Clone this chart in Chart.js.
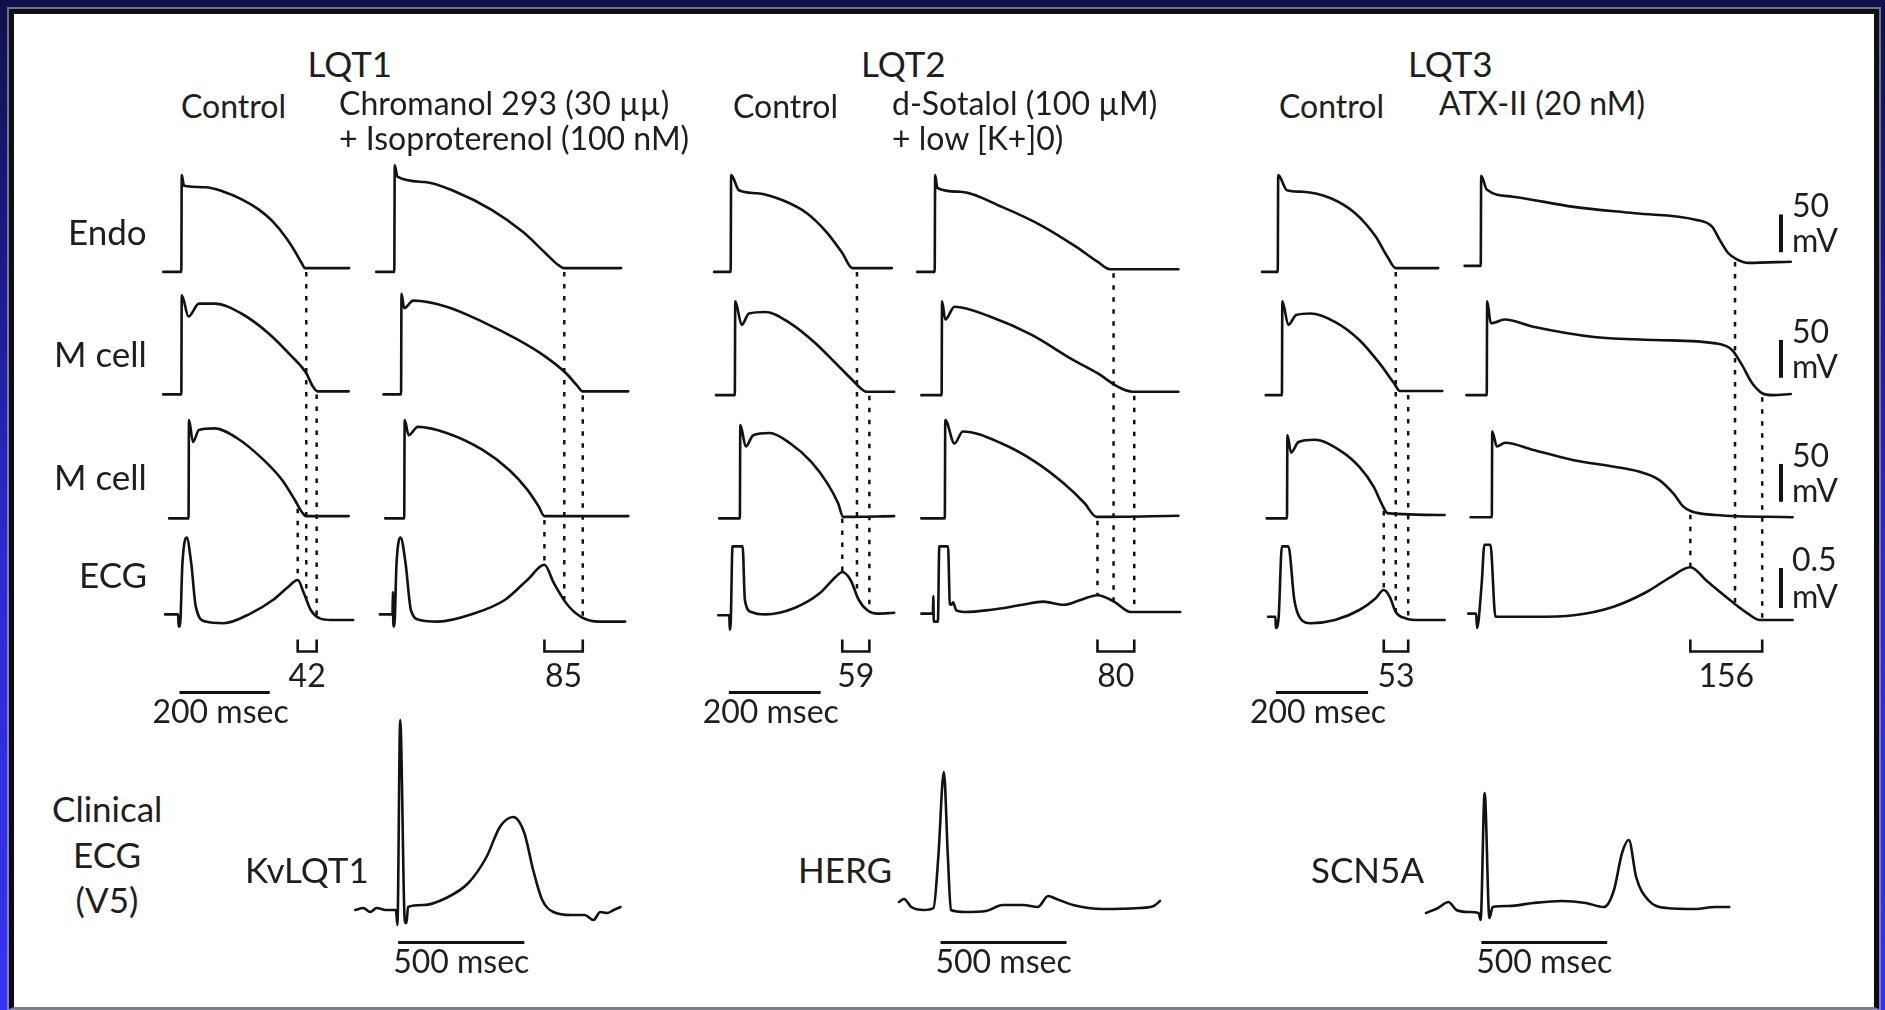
<!DOCTYPE html>
<html>
<head>
<meta charset="utf-8">
<title>Cellular basis of LQT1, LQT2 and LQT3</title>
<script src="https://cdn.jsdelivr.net/npm/chart.js@4.4.1/dist/chart.umd.min.js"></script>
<style>
  html, body { margin: 0; padding: 0; }
  body {
    width: 1885px; height: 1010px; overflow: hidden; position: relative;
    background: linear-gradient(180deg, #10104a 0%, #1a1a86 25%, #2a2ad2 55%, #3434f6 100%);
    font-family: Lato, "Open Sans", sans-serif; color: #1e1e1e;
  }
  #panel {
    position: absolute; left: 9px; top: 9px; width: 1870px; height: 1000px; box-sizing: border-box;
    background: #fff; border: 5px solid #0e0e0e; border-bottom: 2px solid #7c7c7c;
    box-shadow: 0 0 0 2px rgba(175,175,195,0.6);
  }
  canvas { position: absolute; }
  .t { position: absolute; white-space: nowrap; line-height: 1; }
</style>
</head>
<body>
<div id="panel"></div>
<script>
// ---------------------------------------------------------------------------
// Arterially perfused wedge recordings: [time (ms), membrane potential (mV)]
// ECG rows: [time (ms), mV]
// ---------------------------------------------------------------------------

// LQT1 — control
const lqt1CtrlEndo  = [[-40,-88],[0,-88],[1,40],[6,26],[54,24],[94,18],[134,8],[173,-6],[203,-21.6],[233,-43.5],[252,-61],[267,-76.6],[274,-83],[372,-83]];
const lqt1CtrlM     = [[-40,-86],[0,-86],[1,45],[16,17],[39,34],[74,34],[133,21],[193,-5],[242,-34],[277,-58],[292,-76],[302,-82],[371,-82]];
const lqt1CtrlM2    = [[-27,-86],[16,-86],[17,44],[26,15],[39,31],[74,33],[124,20],[183,-9],[223,-35],[252,-62],[269,-79],[277,-83],[371,-83]];
const lqt1CtrlEcg   = [[-36,0.07],[-7,0.07],[-6,-0.08],[-3,-0.08],[2.5,0.71],[12,1.03],[22,0.71],[32,0.17],[54,-0.02],[94,-0.04],[153,0.08],[203,0.25],[238,0.42],[258,0.5],[272,0.33],[287,0.125],[307,0.02],[332,0],[381,0]];

// LQT1 — chromanol 293B + isoproterenol
const lqt1DrugEndo  = [[-40,-88],[0,-88],[1,53],[7,38],[67,31],[136,18],[216,-6],[285,-35],[335,-63],[364,-79],[376,-83],[503,-83]];
const lqt1DrugM     = [[-24,-86],[15,-86],[16,47],[22,28],[42,38],[116,30],[196,10],[275,-14],[335,-36],[381,-58],[405,-74],[418,-82],[519,-82]];
const lqt1DrugM2    = [[-20,-86],[22,-86],[23,44],[32,24],[52,35],[116,27],[196,4.5],[255,-22],[295,-48],[320,-70],[333,-83],[519,-83]];
const lqt1DrugEcg   = [[-32,0.07],[-4,0.07],[-3,0.35],[-2,-0.08],[0,-0.08],[5,0.71],[14,1.03],[25,0.71],[37,0.12],[57,0],[97,-0.02],[176,0.08],[245,0.25],[295,0.5],[333,0.69],[354,0.46],[384,0.19],[414,0.04],[454,-0.02],[512,-0.02]];

// LQT2 — control
const lqt2CtrlEndo  = [[-36,-88],[0,-88],[1,40],[18,20],[58,16],[112,7],[166,-10.5],[211,-37],[243,-63],[265,-83],[351,-83]];
const lqt2CtrlM     = [[-32,-87],[9,-87],[10,37],[24,6],[40,21],[76,23],[130,8],[184,-18],[229,-45],[265,-67],[283,-78],[296,-82.5],[356,-82.5]];
const lqt2CtrlM2    = [[-25,-86],[20,-86],[21,37.5],[33,9],[49,24],[85,27],[130,13],[175,-11],[211,-40],[234,-66],[245,-84],[356,-83]];
const lqt2CtrlEcg   = [[-27,0.06],[-3,0.06],[-2,-0.12],[0,-0.05],[4,0.92],[26,0.92],[31,0.25],[45,0.1],[76,0.07],[139,0.15],[193,0.33],[229,0.54],[243,0.6],[261,0.5],[279,0.25],[297,0.125],[320,0.08],[356,0.09]];

// LQT2 — d-sotalol + low [K+]o
const lqt2DrugEndo  = [[-38,-88],[0,-88],[1,40],[6,23],[56,18],[146,-2],[236,-28],[308,-55],[354,-74.5],[381,-84.5],[530,-84.5]];
const lqt2DrugM     = [[-29,-87],[15,-87],[16,37],[23,13],[43,30],[120,17],[210,-7],[300,-40],[354,-58],[399,-76],[430,-82.5],[530,-82.5]];
const lqt2DrugM2    = [[-29,-86],[22,-86],[23,44],[43,13],[61,29],[146,13],[218,-11],[281,-40],[326,-66],[352,-84],[530,-82.5]];
const lqt2DrugEcg   = [[-29,0.08],[-4,0.08],[-3,0.3],[-2,-0.02],[7,-0.02],[10,0.92],[29,0.92],[33,0.2],[36,0.19],[40,0.22],[47,0.12],[65,0.1],[119,0.125],[191,0.19],[236,0.23],[281,0.19],[317,0.25],[354,0.31],[390,0.23],[426,0.1],[534,0.1]];

// LQT3 — control
const lqt3CtrlEndo  = [[-34,-88],[0,-88],[1,40],[20,20],[54,18],[115,9.4],[168,-10.5],[212,-41],[238,-68],[256,-83],[348,-83]];
const lqt3CtrlM     = [[-26,-87],[9,-87],[10,37],[23,6],[40,19],[71,21],[124,10],[177,-14],[221,-45],[252,-71],[265,-81.5],[357,-81.5]];
const lqt3CtrlM2    = [[-24,-86],[20,-86],[21,24],[29,1],[45,15],[80,18],[133,4.5],[177,-18],[208,-44],[225,-66],[238,-79],[362,-81.5]];
const lqt3CtrlEcg   = [[-21,0.04],[-5,0.04],[-4,-0.1],[2,0.04],[9,0.92],[23,0.92],[36,0.25],[49,0.02],[71,-0.04],[124,0],[177,0.125],[212,0.27],[230,0.375],[243,0.29],[256,0.1],[278,0.02],[309,0],[362,0]];

// LQT3 — ATX-II
const lqt3DrugEndo  = [[-35,-80],[0,-80],[1,39],[13,21],[70,11.5],[202,-2],[334,-10.5],[466,-19],[502,-28],[519,-46],[537,-63],[555,-71],[581,-76],[673,-74.5]];
const lqt3DrugM     = [[-31,-87],[13,-87],[14,37],[22,8],[52,13],[114,3.5],[246,-10],[378,-14],[510,-18.5],[545,-27],[567,-47],[589,-71],[611,-84.5],[633,-87],[673,-85.5]];
const lqt3DrugM2    = [[-22,-84.5],[24,-84.5],[25,29],[35,9],[53,14],[114,4.5],[202,-9],[290,-17.6],[343,-24],[387,-35],[418,-53],[440,-70.5],[458,-77],[510,-81.5],[677,-84.5]];
const lqt3DrugEcg   = [[-27,0.08],[-10,0.08],[-8,-0.1],[2,0.45],[8,0.94],[21,0.94],[32,0.04],[114,0.04],[202,0.06],[290,0.17],[360,0.35],[413,0.54],[455,0.66],[492,0.48],[545,0.23],[580,0.08],[606,0],[677,0]];

// Repolarization landmarks per column (ms): end of Endo AP, T-wave peak, Tpeak–Tend
const endoRepolEnd = [277, 377, 275, 389, 256, 552];
const tPeakTime    = [258, 333, 243, 354, 230, 455];
const tPeakToEnd   = [42, 85, 59, 80, 53, 156];

// Clinical V5 ECGs: [time from QRS onset (ms), mV]
const kvlqt1Ecg = [[-156,0],[-124,0.02],[-97,-0.02],[-71,0.02],[-35,0],[-9,0],[5,0],[11,-0.15],[22,1.9],[41,-0.13],[47,-0.13],[53,0.03],[115,0.05],[204,0.12],[292,0.27],[364,0.53],[417,0.83],[470,0.93],[514,0.77],[549,0.4],[585,0.1],[629,-0.02],[700,-0.05],[753,-0.05],[788,-0.1],[815,-0.02],[842,-0.03],[868,0],[895,0.03]];
const hergEcg   = [[-148,0.08],[-128,0.11],[-99,0.03],[-49,0],[-11,0.02],[8,0.53],[30,1.38],[46,0.53],[58,0],[115,-0.02],[197,-0.01],[263,0.05],[345,0.05],[403,0.03],[444,0.14],[477,0.11],[543,0.05],[658,0.01],[806,0.02],[863,0.04],[888,0.09]];
const scn5aEcg  = [[-212,-0.03],[-164,0.02],[-123,0.08],[-91,0],[-43,-0.02],[-3,-0.03],[5,-0.1],[21,1.17],[40,-0.08],[53,0.03],[117,0.04],[214,0.07],[327,0.09],[423,0.07],[495,0.03],[535,0.2],[567,0.57],[594,0.7],[623,0.33],[671,0.1],[744,0.02],[857,0.01],[937,0.03],[993,0.03]];

// Text
const groupTitles   = ['LQT1', 'LQT2', 'LQT3'];
const conditionText = [['Control'], ['Chromanol 293 (30 \u00b5\u00b5)', '+ Isoproterenol (100 nM)'], ['Control'], ['d-Sotalol (100 \u00b5M)', '+ low [K+]0)'], ['Control'], ['ATX-II (20 nM)']];
const rowNames      = ['Endo', 'M cell', 'M cell', 'ECG'];
const clinicalTitle = ['Clinical', 'ECG', '(V5)'];
const genotypes     = ['KvLQT1', 'HERG', 'SCN5A'];

// ---------------------------------------------------------------------------
const INK = '#121212';
const TEXT = '#1e1e1e';
const AP_RANGE = [-104, 60];
const ECG_RANGE = [-0.3, 1.1];
const ROW_AXES = ['endo', 'mcell', 'mcell2', 'ecg'];

const columnTraces = [
  [lqt1CtrlEndo, lqt1CtrlM, lqt1CtrlM2, lqt1CtrlEcg],
  [lqt1DrugEndo, lqt1DrugM, lqt1DrugM2, lqt1DrugEcg],
  [lqt2CtrlEndo, lqt2CtrlM, lqt2CtrlM2, lqt2CtrlEcg],
  [lqt2DrugEndo, lqt2DrugM, lqt2DrugM2, lqt2DrugEcg],
  [lqt3CtrlEndo, lqt3CtrlM, lqt3CtrlM2, lqt3CtrlEcg],
  [lqt3DrugEndo, lqt3DrugM, lqt3DrugM2, lqt3DrugEcg],
];

// page layout (px)
const columnLayout = [
  { x0: 181,  k: 0.45, tMin: -45, tMax: 385, timeBar: true },
  { x0: 394,  k: 0.45, tMin: -45, tMax: 525 },
  { x0: 731,  k: 0.46, tMin: -45, tMax: 360, timeBar: true },
  { x0: 935,  k: 0.46, tMin: -45, tMax: 540 },
  { x0: 1278, k: 0.46, tMin: -45, tMax: 365, timeBar: true },
  { x0: 1481, k: 0.46, tMin: -45, tMax: 680, voltBars: true, padRight: 70 },
];
const COL_TOP = 150, COL_PAD_TOP = 10, COL_PAD_BOTTOM = 91, COL_PAD_LEFT = 30, ROW_HEIGHTS = [124, 124, 124, 112];

const clinicalTraces = [kvlqt1Ecg, hergEcg, scn5aEcg];
const clinicalLayout = [
  { x0: 395,    tMin: -165, tMax: 905, barFrom: 14 },
  { x0: 936,    tMin: -160, tMax: 900, barFrom: 17 },
  { x0: 1479.6, tMin: -220, tMax: 1000, barFrom: 8 },
];
const CLIN_K = 0.252, CLIN_TOP = 700, CLIN_PAD_TOP = 10, CLIN_PAD_BOTTOM = 45, CLIN_RANGE = [-0.3, 2.0], CLIN_PX_PER_MV = 100;

function valueAt(pts, t) {
  if (t <= pts[0][0]) return pts[0][1];
  for (let i = 1; i < pts.length; i++) {
    if (t <= pts[i][0]) {
      const [t0, v0] = pts[i - 1], [t1, v1] = pts[i];
      return v0 + (v1 - v0) * (t - t0) / (t1 - t0);
    }
  }
  return pts[pts.length - 1][1];
}

function traceDataset(pts, yAxisID) {
  return {
    data: pts.map(([x, y]) => ({ x, y })),
    yAxisID,
    borderColor: INK,
    borderWidth: 2.6,
    pointRadius: 0,
    fill: false,
    cubicInterpolationMode: 'monotone',
    borderJoinStyle: 'round',
    borderCapStyle: 'round',
    clip: false,
  };
}

function makeCanvas(left, top, width, height) {
  const c = document.createElement('canvas');
  c.width = Math.round(width);
  c.height = Math.round(height);
  c.style.left = left + 'px';
  c.style.top = top + 'px';
  document.body.appendChild(c);
  return c;
}

// Dotted repolarization guides, Tp-e bracket and scale bars of one wedge column
function wedgeMarks(ci) {
  const traces = columnTraces[ci];
  const lay = columnLayout[ci];
  const tPeak = tPeakTime[ci], tpe = tPeakToEnd[ci];
  return {
    id: 'wedgeMarks' + ci,
    afterDatasetsDraw(chart) {
      const { ctx, chartArea: area, scales } = chart;
      const x = scales.x;
      ctx.save();
      ctx.strokeStyle = INK;
      ctx.fillStyle = TEXT;

      const guides = [
        { t: endoRepolEnd[ci], axis: 'endo', src: traces[0] },
        { t: tPeak + tpe, axis: 'mcell', src: traces[1] },
        { t: tPeak, axis: 'mcell2', src: traces[2] },
      ];
      ctx.lineWidth = 2.5;
      ctx.setLineDash([4.5, 7.5]);
      for (const g of guides) {
        const px = x.getPixelForValue(g.t);
        const y1 = scales[g.axis].getPixelForValue(valueAt(g.src, g.t)) + 4;
        const y2 = scales.ecg.getPixelForValue(valueAt(traces[3], g.t));
        ctx.beginPath();
        ctx.moveTo(px, y1);
        ctx.lineTo(px, y2);
        ctx.stroke();
      }
      ctx.setLineDash([]);

      // Tpeak–Tend bracket
      const xa = x.getPixelForValue(tPeak), xb = x.getPixelForValue(tPeak + tpe);
      const yb = area.bottom + 7.5;
      ctx.lineWidth = 2.6;
      ctx.beginPath();
      ctx.moveTo(xa, yb - 12); ctx.lineTo(xa, yb); ctx.lineTo(xb, yb); ctx.lineTo(xb, yb - 12);
      ctx.stroke();
      ctx.font = '32px Lato, "Open Sans", sans-serif';
      ctx.textAlign = 'center';
      ctx.textBaseline = 'alphabetic';
      ctx.fillText(String(tpe), (xa + xb) / 2, area.bottom + 43);

      // 200 msec time bar
      if (lay.timeBar) {
        const t0 = -4;
        const p0 = x.getPixelForValue(t0), p1 = x.getPixelForValue(t0 + 200);
        const yt = area.bottom + 48.5;
        ctx.lineWidth = 3;
        ctx.beginPath(); ctx.moveTo(p0, yt); ctx.lineTo(p1, yt); ctx.stroke();
        ctx.fillText('200 msec', (p0 + p1) / 2 - 4, yt + 30.5);
      }

      // voltage calibration bars
      if (lay.voltBars) {
        const bx = area.right - 13;
        const bars = [
          { axis: 'endo', lo: -62, size: 50, label: '50' },
          { axis: 'mcell', lo: -64, size: 50, label: '50' },
          { axis: 'mcell2', lo: -64, size: 50, label: '50' },
          { axis: 'ecg', lo: 0.15, size: 0.5, label: '0.5' },
        ];
        ctx.lineWidth = 4;
        ctx.textAlign = 'left';
        for (const b of bars) {
          const yLo = scales[b.axis].getPixelForValue(b.lo);
          const yHi = scales[b.axis].getPixelForValue(b.lo + b.size);
          ctx.beginPath(); ctx.moveTo(bx, yLo); ctx.lineTo(bx, yHi); ctx.stroke();
          ctx.fillText(b.label, bx + 11, yHi + 3);
          ctx.fillText('mV', bx + 11, yLo);
        }
      }
      ctx.restore();
    }
  };
}

function clinicalMarks(ci) {
  const lay = clinicalLayout[ci];
  return {
    id: 'clinicalMarks' + ci,
    afterDatasetsDraw(chart) {
      const { ctx, chartArea: area, scales } = chart;
      const p0 = scales.x.getPixelForValue(lay.barFrom), p1 = scales.x.getPixelForValue(lay.barFrom + 500);
      const yt = area.bottom + 2.5;
      ctx.save();
      ctx.strokeStyle = INK;
      ctx.fillStyle = TEXT;
      ctx.lineWidth = 3;
      ctx.beginPath(); ctx.moveTo(p0, yt); ctx.lineTo(p1, yt); ctx.stroke();
      ctx.font = '32px Lato, "Open Sans", sans-serif';
      ctx.textAlign = 'center';
      ctx.textBaseline = 'alphabetic';
      ctx.fillText('500 msec', (p0 + p1) / 2, yt + 30.5);
      ctx.restore();
    }
  };
}

const baseOptions = {
  responsive: false,
  animation: false,
  events: [],
  devicePixelRatio: 1,
  plugins: { legend: { display: false }, tooltip: { enabled: false }, title: { display: false } },
};

// wedge columns: four stacked rows share one time axis
columnLayout.forEach((lay, ci) => {
  const padR = lay.padRight || 0;
  const areaW = (lay.tMax - lay.tMin) * lay.k;
  const areaH = ROW_HEIGHTS.reduce((a, b) => a + b, 0);
  const canvas = makeCanvas(lay.x0 + lay.tMin * lay.k - COL_PAD_LEFT, COL_TOP, COL_PAD_LEFT + areaW + padR, COL_PAD_TOP + areaH + COL_PAD_BOTTOM);
  const scales = { x: { type: 'linear', min: lay.tMin, max: lay.tMax, display: false } };
  ROW_AXES.forEach((id, r) => {
    const range = id === 'ecg' ? ECG_RANGE : AP_RANGE;
    scales[id] = {
      type: 'linear', min: range[0], max: range[1], display: false,
      position: 'left', stack: 'rows', stackWeight: ROW_HEIGHTS[r], weight: ROW_AXES.length - r,
    };
  });
  new Chart(canvas, {
    type: 'line',
    data: { datasets: columnTraces[ci].map((pts, r) => traceDataset(pts, ROW_AXES[r])) },
    options: Object.assign({}, baseOptions, {
      layout: { padding: { top: COL_PAD_TOP, bottom: COL_PAD_BOTTOM, left: COL_PAD_LEFT, right: padR } },
      scales,
    }),
    plugins: [wedgeMarks(ci)],
  });
});

// clinical V5 ECGs
clinicalLayout.forEach((lay, ci) => {
  const areaW = (lay.tMax - lay.tMin) * CLIN_K;
  const areaH = (CLIN_RANGE[1] - CLIN_RANGE[0]) * CLIN_PX_PER_MV;
  const canvas = makeCanvas(lay.x0 + lay.tMin * CLIN_K, CLIN_TOP, areaW, CLIN_PAD_TOP + areaH + CLIN_PAD_BOTTOM);
  new Chart(canvas, {
    type: 'line',
    data: { datasets: [traceDataset(clinicalTraces[ci], 'y')] },
    options: Object.assign({}, baseOptions, {
      layout: { padding: { top: CLIN_PAD_TOP, bottom: CLIN_PAD_BOTTOM, left: 0, right: 0 } },
      scales: {
        x: { type: 'linear', min: lay.tMin, max: lay.tMax, display: false },
        y: { type: 'linear', min: CLIN_RANGE[0], max: CLIN_RANGE[1], display: false },
      },
    }),
    plugins: [clinicalMarks(ci)],
  });
});

// text labels, positioned by their baseline
function placeText(txt, x, baseline, size, align) {
  const d = document.createElement('div');
  d.className = 't';
  d.style.fontSize = size + 'px';
  d.style.color = TEXT;
  d.appendChild(document.createTextNode(txt));
  const probe = document.createElement('span');
  probe.style.cssText = 'display:inline-block;width:0;height:0;';
  d.appendChild(probe);
  document.body.appendChild(d);
  const base = probe.offsetTop;
  const w = d.offsetWidth;
  d.style.top = (baseline - base) + 'px';
  d.style.left = (align === 'center' ? x - w / 2 : align === 'right' ? x - w : x) + 'px';
}

const titleCenters = [350, 903.5, 1450.5];
groupTitles.forEach((s, i) => placeText(s, titleCenters[i], 77, 35, 'center'));
const conditionLeft = [181, 339, 733, 892, 1279, 1439];
const conditionBase = [[118], [115, 150], [118], [115, 150], [118], [115]];
conditionText.forEach((lines, i) => lines.forEach((s, j) => placeText(s, conditionLeft[i], conditionBase[i][j], 32, 'left')));
const rowBaselines = [245, 367, 490, 588];
rowNames.forEach((s, i) => placeText(s, 147, rowBaselines[i], 35, 'right'));
const clinicalBaselines = [822, 868, 913];
clinicalTitle.forEach((s, i) => placeText(s, 107, clinicalBaselines[i], 35, 'center'));
const genotypeLeft = [245, 798, 1311];
genotypes.forEach((s, i) => placeText(s, genotypeLeft[i], 883, 35, 'left'));
</script>
</body>
</html>
